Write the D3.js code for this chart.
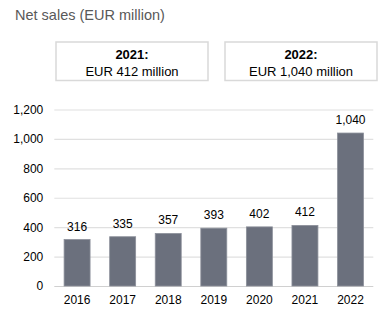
<!DOCTYPE html>
<html><head><meta charset="utf-8">
<script src="https://cdn.jsdelivr.net/npm/d3@7"></script>
<style>body{margin:0;background:#fff;font-family:"Liberation Sans",Arial,sans-serif;}</style>
</head><body>
<svg id="c" width="392" height="321"></svg>
<script>
const years = ["2016","2017","2018","2019","2020","2021","2022"];
const sales = [316,335,357,393,402,412,1040];
const yTicks = [0,200,400,600,800,1000,1200];
const boxTitles = ["2021:","2022:"];
const boxValues = ["EUR 412 million","EUR 1,040 million"];
const title = "Net sales (EUR million)";

const svg = d3.select("#c");
const fmt = d3.format(",");
const x = d3.scaleBand().domain(years).range([54.3,373.3]).paddingInner(0.43).paddingOuter(0.215);
const y = d3.scaleLinear().domain([0,1200]).range([286,109.5]);

svg.append("text").attr("x",15).attr("y",20).attr("font-size",14.5).attr("fill","#595959").text(title);

// boxes
const bx = [56,225], bw = 152;
boxTitles.forEach((t,i)=>{
  svg.append("rect").attr("x",bx[i]).attr("y",42).attr("width",bw).attr("height",38.5)
    .attr("fill","#fff").attr("stroke","#d9d9d9").attr("stroke-width",1.5);
  svg.append("text").attr("x",bx[i]+bw/2).attr("y",58.5).attr("text-anchor","middle")
    .attr("font-size",13).attr("font-weight","bold").attr("fill","#000").text(t);
  svg.append("text").attr("x",bx[i]+bw/2).attr("y",75.5).attr("text-anchor","middle")
    .attr("font-size",13).attr("fill","#000").text(boxValues[i]);
});

// gridlines
const ax = svg.append("g").attr("transform","translate(54.3,0)")
  .call(d3.axisLeft(y).tickValues(yTicks).tickFormat(fmt).tickSize(-319).tickPadding(11));
ax.select(".domain").remove();
ax.selectAll(".tick line").attr("stroke","#e0e0e0").attr("stroke-width",1.2);
ax.selectAll(".tick text").attr("font-size",12).attr("fill","#000").attr("font-family","Liberation Sans, Arial, sans-serif");
ax.selectAll(".tick").filter(d=>d===0).select("line").attr("stroke","#d0d0d0");

// bars
svg.selectAll(".bar").data(sales).enter().append("rect")
  .attr("x",(d,i)=>x(years[i])).attr("width",x.bandwidth())
  .attr("y",d=>y(d)).attr("height",d=>y(0)-y(d))
  .attr("fill","#6b707d").attr("stroke","#8c909a").attr("stroke-width",0.8);

svg.selectAll(".lbl").data(sales).enter().append("text")
  .attr("x",(d,i)=>x(years[i])+x.bandwidth()/2).attr("y",d=>y(d)-9)
  .attr("text-anchor","middle").attr("font-size",12).attr("fill","#000").text(d=>fmt(d));

const xa = svg.append("g").attr("transform","translate(0,286)")
  .call(d3.axisBottom(x).tickSize(0).tickPadding(9));
xa.select(".domain").remove();
xa.selectAll(".tick text").attr("font-size",12).attr("fill","#000").attr("font-family","Liberation Sans, Arial, sans-serif");
</script>
</body></html>
